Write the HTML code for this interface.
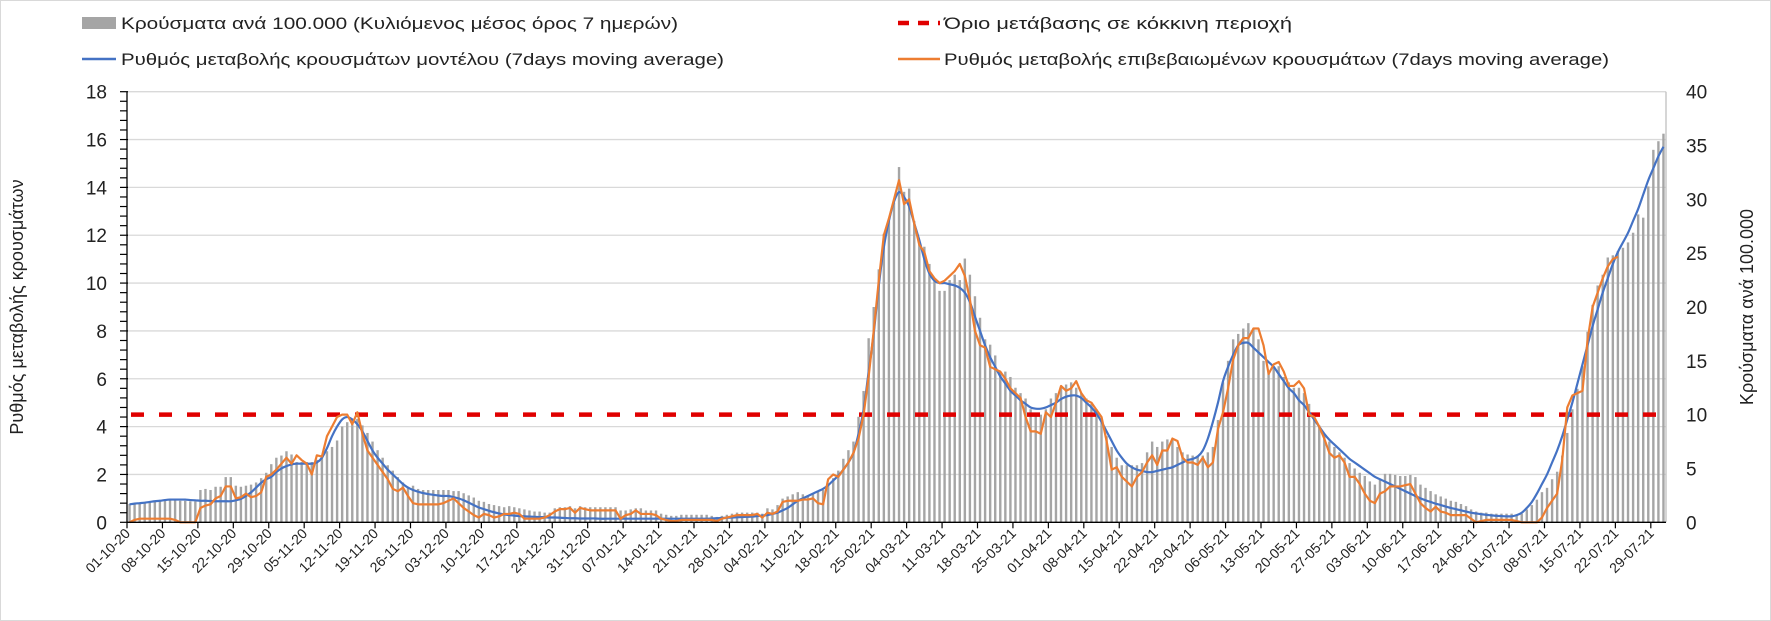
<!DOCTYPE html>
<html><head><meta charset="utf-8">
<style>
html,body{margin:0;padding:0;background:#fff;}
svg{display:block;font-family:"Liberation Sans","DejaVu Sans",sans-serif;}
</style></head>
<body>
<svg id="chart" width="1771" height="621" viewBox="0 0 1771 621" xmlns="http://www.w3.org/2000/svg">
<rect x="0.5" y="0.5" width="1770" height="620" fill="#fff" stroke="#d9d9d9"/>
<g id="grid"></g>
<g id="bars"></g>
<g id="lines"></g>
<g id="axes"></g>
<g>
  <g>
    <rect x="82" y="17" width="34" height="12" fill="#a5a5a5"/>
    <text x="121" y="29" font-size="17" fill="#222" textLength="557" lengthAdjust="spacingAndGlyphs">Κρούσματα ανά 100.000 (Κυλιόμενος μέσος όρος 7 ημερών)</text>
  </g>
  <g>
    <line x1="82" y1="59" x2="116" y2="59" stroke="#4472c4" stroke-width="2.5"/>
    <text x="121" y="65" font-size="17" fill="#222" textLength="603" lengthAdjust="spacingAndGlyphs">Ρυθμός μεταβολής κρουσμάτων μοντέλου (7days moving average)</text>
  </g>
  <g>
    <line x1="898" y1="23" x2="940" y2="23" stroke="#e00000" stroke-width="4.5" stroke-dasharray="11 9"/>
    <text x="944" y="29" font-size="17" fill="#222" textLength="348" lengthAdjust="spacingAndGlyphs">Όριο μετάβασης σε κόκκινη περιοχή</text>
  </g>
  <g>
    <line x1="898" y1="59" x2="940" y2="59" stroke="#ed7d31" stroke-width="2.5"/>
    <text x="944" y="65" font-size="17" fill="#222" textLength="665" lengthAdjust="spacingAndGlyphs">Ρυθμός μεταβολής επιβεβαιωμένων κρουσμάτων (7days moving average)</text>
  </g>
</g>
<text transform="translate(23,307) rotate(-90)" text-anchor="middle" font-size="18" fill="#222">Ρυθμός μεταβολής κρουσμάτων</text>
<text transform="translate(1753,307) rotate(-90)" text-anchor="middle" font-size="18" fill="#222">Κρούσματα ανά 100.000</text>
</svg>
<script>
// ---- data ----
const tickLabels = ["01-10-20","08-10-20","15-10-20","22-10-20","29-10-20","05-11-20","12-11-20","19-11-20","26-11-20","03-12-20","10-12-20","17-12-20","24-12-20","31-12-20","07-01-21","14-01-21","21-01-21","28-01-21","04-02-21","11-02-21","18-02-21","25-02-21","04-03-21","11-03-21","18-03-21","25-03-21","01-04-21","08-04-21","15-04-21","22-04-21","29-04-21","06-05-21","13-05-21","20-05-21","27-05-21","03-06-21","10-06-21","17-06-21","24-06-21","01-07-21","08-07-21","15-07-21","22-07-21","29-07-21"];
const leftTicks = [0,2,4,6,8,10,12,14,16,18];
const rightTicks = [0,5,10,15,20,25,30,35,40];
const threshold = 4.5;
const casesPer100k = [
1.7,1.75,1.8,1.85,1.9,1.95,2.0, 2.05,2.1,2.05,2.0,2.0,1.95,1.95, 3.0,3.1,3.0,3.3,3.3,4.2,4.2,
3.4,3.3,3.4,3.5,3.7,4.1,4.6, 5.4,6.0,6.2,6.6,6.3,5.6,5.6, 5.6,5.6,5.8,6.2,6.6,7.0,7.6,
8.9,9.3,9.5,9.6,9.0,8.3,7.5, 6.7,6.0,5.3,4.8,4.2,3.7,3.3, 3.4,3.1,3.0,3.0,3.0,3.0,3.0,
3.0,2.9,2.9,2.7,2.5,2.3,2.0, 1.9,1.7,1.6,1.5,1.4,1.5,1.4, 1.3,1.2,1.1,1.0,1.0,0.9,0.9,
1.3,1.4,1.4,1.5,1.3,1.5,1.4, 1.4,1.4,1.4,1.4,1.4,1.4,1.1, 1.1,1.2,1.3,1.3,1.1,1.1,1.1,
0.8,0.7,0.6,0.6,0.7,0.7,0.7, 0.7,0.7,0.7,0.6,0.5,0.6,0.7, 0.8,0.9,0.9,0.9,0.9,0.9,0.8,
1.3,1.2,1.6,2.2,2.4,2.6,2.8, 2.6,2.5,2.7,2.9,3.0,3.6,4.1, 4.8,5.9,6.7,7.5,9.8,12.2,17.1,
20,23.5,26.8,28,29.7,33,30.7, 31,28,26.2,25.6,24,22.5,21.5, 21.5,22.5,23,22.5,24.5,23,21,
19,17,16.5,15.5,14,14,13.5, 12.5,12,11.5,10.5,10,10,10.5, 11.5,12,12.5,12.8,13,12.5,12,
11.5,11,10.5,9.5,8,7,6, 5.3,5.3,5.3,5.3,5.5,6.5,7.5, 7,7.5,7.7,7.7,7,6.5,6.3,
6.2,6.2,6.2,6.5,7,9.5,13, 15,17,17.5,18,18.5,18,17, 15,14,14.5,14.5,13.5,13,12.5,
12.5,12,11,10,9,8.2,7.5, 7,6.5,6,5.5,5,4.6,4.3, 3.8,3.5,4.0,4.5,4.5,4.4,4.3,
4.3,4.4,4.2,3.5,3.2,2.9,2.6, 2.4,2.2,2.0,1.9,1.7,1.5,1.2, 1.0,0.9,0.9,0.8,0.8,0.8,0.8,
0.8,0.7,0.8,1.2,1.6,2.1,2.8, 3.2,4.0,4.7,6.2,8.3,10.5,12.4, 14.5,17.7,20.2,22,23,24.6,24.8,
25.2,25.5,26,26.9,28.6,28.3,31.2, 34.6,35.4,36.1];
const modelRate = [
.75,.78,.8,.82,.85,.88,.9, .93,.95,.95,.95,.95,.93,.92, .9,.9,.89,.88,.88,.88,.88,
.92,.98,1.1,1.25,1.45,1.65,1.8, 1.9,2.1,2.25,2.35,2.42,2.45,2.45, 2.45,2.45,2.5,2.7,3.1,3.6,4.0,
4.3,4.4,4.3,4.1,3.8,3.4,3.0, 2.7,2.45,2.2,2.0,1.8,1.6,1.45, 1.35,1.28,1.22,1.18,1.15,1.12,1.1,
1.1,1.05,1.0,.92,.82,.72,.62, .55,.48,.42,.37,.33,.3,.28, .26,.25,.24,.23,.22,.21,.2,
.2,.19,.18,.17,.17,.16,.16, .16,.16,.15,.15,.15,.15,.15, .15,.15,.15,.15,.15,.15,.15,
.15,.15,.15,.15,.15,.15,.15, .15,.15,.15,.16,.17,.18,.19, .2,.21,.22,.23,.24,.26,.28,
.3,.35,.4,.5,.6,.75,.9, 1.0,1.1,1.2,1.3,1.4,1.55,1.75, 1.95,2.2,2.5,2.9,3.7,4.7,6.3,
7.9,9.9,11.5,12.6,13.4,13.8,13.6, 13.2,12.5,11.8,11.0,10.4,10.1,10.0, 10.0,9.95,9.9,9.8,9.6,9.2,8.6,
8.0,7.4,6.9,6.5,6.1,5.8,5.5, 5.3,5.1,4.95,4.8,4.75,4.75,4.8, 4.9,5.0,5.15,5.25,5.3,5.3,5.2,
5.0,4.8,4.55,4.2,3.8,3.4,3.0, 2.7,2.45,2.3,2.2,2.15,2.1,2.1, 2.15,2.2,2.25,2.3,2.4,2.5,2.6,
2.65,2.75,3.0,3.5,4.2,5.0,5.9, 6.5,7.0,7.4,7.5,7.5,7.3,7.1, 6.9,6.7,6.5,6.2,5.9,5.6,5.4,
5.1,4.9,4.6,4.3,4.0,3.7,3.45, 3.25,3.05,2.85,2.65,2.5,2.35,2.2, 2.05,1.9,1.8,1.7,1.6,1.5,1.4,
1.3,1.2,1.1,1.0,.92,.85,.78, .72,.66,.6,.55,.5,.45,.4, .37,.34,.31,.29,.27,.26,.25,
.25,.3,.4,.6,.85,1.2,1.6, 2.0,2.5,3.0,3.6,4.3,5.0,5.8, 6.6,7.4,8.2,8.9,9.6,10.2,10.8,
11.3,11.7,12.1,12.6,13.1,13.7,14.3, 14.8,15.3,15.7];
const confirmedRate = [
0,.1,.15,.15,.15,.15,.15, .15,.15,.1,0,0,0,0, .6,.7,.75,1.0,1.1,1.5,1.5,
1.0,1.05,1.2,1.05,1.1,1.25,1.9, 2.0,2.2,2.45,2.7,2.45,2.8,2.6, 2.45,2.0,2.8,2.75,3.6,4.0,4.4,
4.5,4.5,4.1,4.6,3.7,3.0,2.7, 2.4,2.1,1.8,1.4,1.3,1.45,1.1, .8,.75,.75,.75,.75,.75,.8,
.9,1.0,.8,.6,.45,.3,.2, .35,.3,.2,.25,.35,.35,.4, .35,.15,.15,.15,.15,.2,.3,
.45,.55,.55,.6,.4,.6,.55, .5,.5,.5,.5,.5,.5,.15, .3,.35,.5,.35,.35,.35,.3,
.15,.1,.05,.05,.1,.1,.1, .1,.1,.1,.1,.05,.15,.2, .25,.3,.3,.3,.3,.35,.2,
.4,.35,.45,.85,.9,.9,.9, .95,.95,1.0,.8,.75,1.8,2.0, 1.9,2.2,2.5,2.9,3.5,4.5,6.1,
8.0,10.1,12.0,12.7,13.5,14.3,13.3, 13.5,12.5,11.6,11.3,10.5,10.2,10.0, 10.1,10.3,10.5,10.8,10.3,9.3,8.0,
7.4,7.3,6.5,6.4,6.3,6.0,5.6, 5.4,5.2,4.4,3.8,3.8,3.7,4.6, 4.4,5.0,5.7,5.5,5.6,5.9,5.4,
5.1,5.0,4.7,4.4,3.4,2.2,2.3, 1.9,1.7,1.5,1.9,2.1,2.5,2.8, 2.4,3.0,3.0,3.5,3.4,2.7,2.5,
2.5,2.4,2.7,2.3,2.5,3.9,4.6, 5.6,6.8,7.4,7.7,7.7,8.1,8.1, 7.4,6.2,6.6,6.7,6.3,5.7,5.7,
5.9,5.6,4.5,4.4,4.0,3.5,2.9, 2.7,2.8,2.5,1.9,1.9,1.6,1.2, .9,.8,1.2,1.3,1.5,1.5,1.5,
1.55,1.6,1.2,.8,.6,.45,.65, .45,.4,.3,.3,.3,.3,.15, 0,.05,.1,.1,.1,.1,.1,
.1,.05,0,0,0,0,.2, .6,.9,1.2,2.6,4.8,5.3,5.4, 5.5,7.6,9.0,9.6,10.2,10.7,11.0,
11.1];

// ---- layout ----
const NS = "http://www.w3.org/2000/svg";
const X0 = 127, X1 = 1666, Y0 = 522.3, YT = 91.7;
const N = casesPer100k.length;
const step = (X1 - X0) / N;
const xCat = i => X0 + step * (i + 0.5);
const xEdge = i => X0 + step * i;
const yL = v => Y0 - (v / 18) * (Y0 - YT);
const yR = v => Y0 - (v / 40) * (Y0 - YT);
function mk(tag, attrs, parent) {
  const e = document.createElementNS(NS, tag);
  for (const k in attrs) e.setAttribute(k, attrs[k]);
  parent.appendChild(e);
  return e;
}
const grid = document.getElementById('grid');
const bars = document.getElementById('bars');
const lines = document.getElementById('lines');
const axes = document.getElementById('axes');

// gridlines
leftTicks.forEach(v => {
  if (v === 0) return;
  const g = mk('line', {x1: X0, x2: X1, y1: yL(v), y2: yL(v), stroke: '#d9d9d9', 'stroke-width': 1.3}, grid);
  
  
});

// bars
casesPer100k.forEach((v, i) => {
  const r = mk('rect', {x: xCat(i) - 1.2, y: yR(v), width: 2.4, height: Y0 - yR(v), fill: '#a5a5a5'}, bars);
  
  
});

// threshold line
const th = mk('line', {x1: X0 + 4, x2: 1657, y1: yL(threshold), y2: yL(threshold), stroke: '#e00000', 'stroke-width': 4.5, 'stroke-dasharray': '13 15'}, lines);



// smooth blue line (catmull-rom)
function smoothPath(vals) {
  const p = vals.map((v, i) => [xCat(i), yL(v)]);
  let d = 'M' + p[0][0].toFixed(2) + ',' + p[0][1].toFixed(2);
  for (let i = 0; i < p.length - 1; i++) {
    const a = p[Math.max(0, i - 1)], b = p[i], c = p[i + 1], e = p[Math.min(p.length - 1, i + 2)];
    const c1x = b[0] + (c[0] - a[0]) / 6, c1y = b[1] + (c[1] - a[1]) / 6;
    const c2x = c[0] - (e[0] - b[0]) / 6, c2y = c[1] - (e[1] - b[1]) / 6;
    d += 'C' + c1x.toFixed(2) + ',' + c1y.toFixed(2) + ' ' + c2x.toFixed(2) + ',' + c2y.toFixed(2) + ' ' + c[0].toFixed(2) + ',' + c[1].toFixed(2);
  }
  return d;
}
const blue = mk('path', {d: smoothPath(modelRate), fill: 'none', stroke: '#4472c4', 'stroke-width': 2.2, 'stroke-linejoin': 'round'}, lines);



const orange = mk('polyline', {points: confirmedRate.map((v, i) => xCat(i).toFixed(2) + ',' + yL(v).toFixed(2)).join(' '), fill: 'none', stroke: '#ed7d31', 'stroke-width': 2.2, 'stroke-linejoin': 'round'}, lines);



// left axis
const la = mk('line', {x1: X0, x2: X0, y1: YT, y2: Y0, stroke: '#000', 'stroke-width': 1.3}, axes);


for (let k = 0; k <= 45; k++) {
  const v = k * 0.4;
  const major = Math.abs(v / 2 - Math.round(v / 2)) < 1e-6;
  const t = mk('line', {x1: X0 - 7, x2: major ? X0 + 1 : X0, y1: yL(v), y2: yL(v), stroke: '#000', 'stroke-width': 1.2}, axes);
  
  
}
leftTicks.forEach(v => {
  const t = mk('text', {x: 107, y: yL(v) + 7, 'text-anchor': 'end', 'font-size': 19, fill: '#222'}, axes);
  t.textContent = v;
  
  
});
// right axis
const ra = mk('line', {x1: X1, x2: X1, y1: YT, y2: Y0, stroke: '#bfbfbf', 'stroke-width': 1.3}, axes);


rightTicks.forEach(v => {
  const t = mk('text', {x: 1686, y: yR(v) + 7, 'text-anchor': 'start', 'font-size': 19, fill: '#222'}, axes);
  t.textContent = v;
  
  
});
// x axis
const xa = mk('line', {x1: X0, x2: X1, y1: Y0, y2: Y0, stroke: '#000', 'stroke-width': 1.3}, axes);


tickLabels.forEach((lab, k) => {
  const x = xEdge(k * 7);
  const tk = mk('line', {x1: x, x2: x, y1: Y0, y2: Y0 + 6, stroke: '#000', 'stroke-width': 1.2}, axes);
  
  
  const t = mk('text', {transform: 'translate(' + (x + 4).toFixed(1) + ',' + (Y0 + 12) + ') rotate(-45)', 'text-anchor': 'end', 'font-size': 14, fill: '#222'}, axes);
  t.textContent = lab;
  
  
});
</script>
</body></html>
